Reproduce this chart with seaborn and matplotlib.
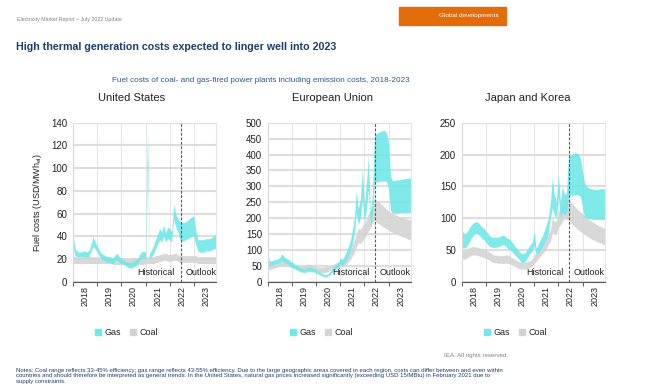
import numpy as np
import pandas as pd
import matplotlib.pyplot as plt
import seaborn as sns
from matplotlib.lines import Line2D
from matplotlib.patches import Rectangle
from matplotlib.ticker import FixedLocator, MultipleLocator

# monthly values, Jan 2018 - Dec 2023 (USD/MWh_el)
months = 2018 + np.arange(72) / 12
year_labels = ["2018", "2019", "2020", "2021", "2022", "2023"]
regions = ["United States", "European Union", "Japan and Korea"]

us_gas_high = [42, 29, 27, 26, 26, 27, 27, 26, 28, 33, 40, 35,
               31, 28, 25, 24, 23, 22, 22, 21, 21, 24, 25, 22,
               20, 19, 18, 17, 17, 17, 18, 19, 20, 24, 26, 27,
               26, 132, 25, 28, 32, 37, 42, 47, 44, 50, 43, 48,
               47, 44, 68, 60, 56, 53, 52, 52, 53, 54, 56, 57,
               58, 45, 37, 37, 37, 37, 38, 38, 38, 39, 41, 41]
us_gas_low = [30, 23, 22, 22, 22, 22, 22, 22, 23, 27, 31, 29,
              26, 23, 20, 19, 18, 17, 17, 16, 16, 19, 19, 17,
              16, 15, 14, 13, 12, 12, 13, 14, 15, 19, 20, 21,
              20, 100, 20, 22, 25, 29, 33, 37, 35, 40, 35, 38,
              37, 35, 55, 48, 44, 37, 36, 36, 37, 38, 39, 40,
              40, 32, 27, 26, 26, 26, 27, 27, 27, 28, 29, 29]
us_coal_high = [23, 22, 22, 22, 22, 22, 23, 23, 23, 22, 22, 22,
                22, 22, 22, 22, 22, 22, 22, 22, 21, 21, 21, 21,
                21, 21, 21, 20, 20, 20, 21, 21, 21, 21, 21, 21,
                22, 22, 22, 22, 22, 23, 23, 24, 24, 25, 25, 24,
                24, 24, 25, 25, 24, 23, 23, 23, 23, 23, 23, 23,
                23, 23, 22, 22, 22, 22, 22, 22, 22, 22, 22, 22]
us_coal_low = [16, 16, 16, 16, 16, 16, 16, 16, 16, 16, 16, 16,
               16, 16, 16, 16, 16, 16, 16, 16, 15, 15, 15, 15,
               15, 15, 15, 14, 14, 14, 15, 15, 15, 15, 15, 15,
               16, 16, 16, 16, 16, 17, 17, 18, 18, 19, 19, 18,
               18, 18, 19, 19, 18, 17, 17, 17, 17, 17, 17, 17,
               17, 17, 16, 16, 16, 16, 16, 16, 16, 16, 16, 16]

eu_gas_high = [84, 66, 66, 68, 70, 72, 76, 88, 80, 74, 72, 66,
               62, 58, 52, 48, 45, 42, 40, 42, 46, 44, 44, 42,
               38, 34, 30, 26, 23, 22, 26, 32, 40, 48, 55, 60,
               75, 70, 80, 95, 110, 130, 160, 200, 285, 230, 260, 355,
               240, 310, 395, 210, 275, 460, 466, 470, 472, 475, 476, 468,
               440, 330, 318, 318, 320, 320, 322, 322, 324, 325, 326, 326]
eu_gas_low = [55, 50, 52, 54, 56, 58, 60, 66, 62, 58, 55, 50,
              46, 42, 38, 35, 32, 30, 29, 30, 33, 32, 31, 30,
              27, 24, 21, 18, 16, 15, 18, 23, 29, 35, 40, 44,
              55, 52, 58, 68, 80, 95, 115, 150, 215, 180, 200, 260,
              185, 230, 290, 175, 210, 312, 314, 315, 316, 316, 316, 314,
              290, 225, 215, 215, 215, 215, 216, 216, 217, 217, 218, 218]
eu_coal_high = [55, 52, 52, 54, 58, 60, 62, 65, 68, 66, 62, 60,
                58, 55, 52, 50, 50, 50, 52, 54, 55, 55, 52, 50,
                48, 46, 46, 46, 46, 48, 48, 50, 52, 56, 60, 62,
                65, 65, 70, 78, 88, 98, 112, 130, 150, 168, 165, 175,
                185, 195, 215, 225, 245, 262, 257, 251, 246, 240, 234, 228,
                223, 219, 215, 212, 209, 206, 203, 201, 199, 197, 195, 194]
eu_coal_low = [38, 38, 40, 42, 44, 46, 48, 50, 52, 50, 48, 46,
               44, 42, 40, 38, 37, 36, 38, 40, 40, 40, 38, 36,
               34, 32, 30, 28, 28, 30, 32, 36, 38, 40, 44, 46,
               48, 48, 52, 56, 62, 70, 80, 92, 108, 122, 120, 128,
               138, 145, 160, 170, 185, 192, 188, 183, 178, 174, 170, 166,
               162, 158, 155, 152, 149, 146, 143, 141, 139, 136, 133, 131]

jk_gas_high = [79, 77, 76, 80, 86, 90, 93, 94, 94, 90, 86, 84,
               80, 76, 72, 70, 70, 70, 70, 71, 73, 73, 70, 68,
               66, 62, 58, 54, 50, 46, 44, 45, 48, 53, 58, 62,
               79, 52, 60, 66, 72, 80, 90, 100, 123, 164, 137, 126,
               168, 126, 150, 137, 140, 196, 199, 201, 202, 203, 200, 194,
               173, 155, 150, 148, 146, 146, 145, 145, 145, 146, 146, 146]
jk_gas_low = [55, 53, 54, 58, 64, 70, 74, 76, 75, 72, 68, 66,
              62, 58, 55, 54, 54, 54, 55, 56, 58, 58, 55, 52,
              50, 47, 43, 40, 37, 33, 30, 31, 34, 40, 45, 48,
              58, 42, 45, 50, 55, 62, 68, 76, 100, 116, 105, 100,
              134, 100, 110, 105, 108, 134, 136, 137, 137, 137, 136, 134,
              116, 102, 100, 99, 99, 98, 98, 98, 98, 98, 98, 98]
jk_coal_high = [50, 49, 50, 52, 54, 55, 55, 55, 54, 53, 52, 51,
                50, 48, 46, 44, 42, 42, 41, 41, 41, 41, 42, 42,
                40, 38, 36, 34, 32, 31, 31, 31, 31, 32, 33, 36,
                42, 44, 48, 54, 58, 63, 70, 76, 81, 100, 95, 95,
                110, 116, 120, 123, 128, 131, 127, 123, 119, 115, 112, 110,
                107, 104, 101, 98, 96, 94, 92, 90, 88, 87, 85, 84]
jk_coal_low = [37, 35, 36, 38, 40, 42, 42, 42, 41, 40, 39, 38,
               37, 35, 33, 31, 30, 30, 29, 29, 29, 29, 29, 29,
               28, 26, 25, 23, 21, 20, 20, 20, 20, 21, 22, 24,
               29, 32, 36, 40, 44, 47, 52, 58, 63, 76, 74, 74,
               85, 89, 95, 100, 98, 97, 93, 90, 87, 84, 81, 79,
               76, 74, 72, 70, 68, 66, 65, 63, 62, 61, 59, 58]

panel_data = [
    (us_gas_low, us_gas_high, us_coal_low, us_coal_high, 140, 20),
    (eu_gas_low, eu_gas_high, eu_coal_low, eu_coal_high, 500, 50),
    (jk_gas_low, jk_gas_high, jk_coal_low, jk_coal_high, 250, 50),
]

GAS = "#6ee8e8"
COAL = "#d4d4d4"
NAVY = "#1f3d6b"
OUTLOOK_START = 2022.45


def band_frame(fuel, low, high):
    lo = pd.DataFrame({"year": months, "cost": low, "fuel": fuel})
    hi = pd.DataFrame({"year": months, "cost": high, "fuel": fuel})
    return pd.concat([lo, hi], ignore_index=True)


sns.set_theme(style="whitegrid")
plt.rcParams["font.family"] = ["Liberation Sans", "DejaVu Sans"]

fig, axes = plt.subplots(1, 3, figsize=(6.56, 3.92), dpi=100)
lefts = [73, 267.7, 461.7]
title_x = [0.41, 0.45, 0.46]

for i, ax in enumerate(axes):
    gas_lo, gas_hi, coal_lo, coal_hi, ymax, ystep = panel_data[i]
    ax.set_position([lefts[i] / 656, 110.3 / 392, 143 / 656, 159 / 392])

    # min-max band per month drawn by seaborn's percentile interval
    sns.lineplot(data=band_frame("Coal", coal_lo, coal_hi), x="year", y="cost",
                 color=COAL, errorbar=("pi", 100), lw=0,
                 err_kws={"alpha": 0.9, "linewidth": 0}, ax=ax)
    sns.lineplot(data=band_frame("Gas", gas_lo, gas_hi), x="year", y="cost",
                 color=GAS, errorbar=("pi", 100), lw=0,
                 err_kws={"alpha": 0.88, "linewidth": 0}, ax=ax)

    ax.set_xlim(2018, months[-1])
    ax.set_ylim(0, ymax)
    ax.yaxis.set_major_locator(MultipleLocator(ystep))
    ax.xaxis.set_major_locator(FixedLocator([int(y) + 0.5 for y in year_labels]))
    ax.set_xticklabels(year_labels)
    ax.xaxis.set_minor_locator(FixedLocator(range(2018, 2024)))

    ax.grid(axis="x", which="major", visible=False)
    ax.grid(axis="x", which="minor", color="#e6e6e6", lw=0.8)
    ax.grid(axis="y", which="major", color="#dedede", lw=1.5)
    ax.set_axisbelow(True)

    ax.tick_params(axis="y", length=0, labelsize=7, pad=4, labelcolor="#222222")
    ax.tick_params(axis="x", which="major", length=0, labelsize=6.5, pad=3,
                   rotation=90, labelcolor="#222222")
    ax.tick_params(axis="x", which="minor", bottom=True, length=3,
                   width=0.7, color="#595959")

    ax.spines["top"].set_visible(False)
    ax.spines["right"].set_color("#e6e6e6")
    ax.spines["right"].set_linewidth(0.8)
    ax.spines["left"].set_color("#d9d9d9")
    ax.spines["left"].set_linewidth(0.8)
    ax.spines["bottom"].set_color("#595959")
    ax.spines["bottom"].set_linewidth(0.8)

    ax.axvline(OUTLOOK_START, color="#595959", ls=(0, (2.5, 1.5)), lw=0.8)
    ax.annotate("Historical", (OUTLOOK_START, 0.055), xycoords=("data", "axes fraction"),
                xytext=(-4, 0), textcoords="offset points", ha="right", va="center",
                fontsize=6.5, color="#222222")
    ax.annotate("Outlook", (OUTLOOK_START, 0.055), xycoords=("data", "axes fraction"),
                xytext=(3.5, 0), textcoords="offset points", ha="left", va="center",
                fontsize=6.5, color="#222222")

    ax.set_xlabel("")
    ax.set_ylabel("")
    ax.text(title_x[i], 1.157, regions[i], transform=ax.transAxes, ha="center",
            va="center", fontsize=8, color="#222222")

    handles = [Line2D([], [], marker="s", ls="none", markersize=5, color=GAS),
               Line2D([], [], marker="s", ls="none", markersize=5, color=COAL)]
    ax.legend(handles, ["Gas", "Coal"], loc="center", bbox_to_anchor=(0.37, -0.32),
              ncol=2, frameon=False, fontsize=6.5, handletextpad=0.2,
              columnspacing=0.9, handlelength=1.0)

axes[0].set_ylabel("Fuel costs (USD/MWh$_{\\mathregular{el}}$)", fontsize=6.5,
                   color="#222222", labelpad=5)

# header and notes
fig.text(17 / 656, 1 - 19 / 392, "Electricity Market Report \u2013 July 2022 Update",
         fontsize=3.8, color="#808080", va="center")
fig.patches.append(Rectangle((399 / 656, 1 - 25 / 392), 107 / 656, 18 / 392,
                             transform=fig.transFigure, color="#e36c0a", zorder=0))
fig.text(469 / 656, 1 - 16 / 392, "Global developments", fontsize=4.6,
         color="white", ha="center", va="center")
fig.text(16 / 656, 1 - 47 / 392, "High thermal generation costs expected to linger well into 2023",
         fontsize=7.7, fontweight="bold", color=NAVY, va="center")
fig.text(261 / 656, 1 - 80 / 392,
         "Fuel costs of coal- and gas-fired power plants including emission costs, 2018-2023",
         fontsize=5.9, color="#34578a", ha="center", va="center")
fig.text(508 / 656, 1 - 355 / 392, "IEA. All rights reserved.", fontsize=4.4,
         color="#808080", ha="right", va="center")
fig.text(16 / 656, 1 - 376 / 392,
         "Notes: Coal range reflects 33-45% efficiency; gas range reflects 43-55% efficiency. "
         "Due to the large geographic areas covered in each region, costs can differ between and even within\n"
         "countries and should therefore be interpreted as general trends. In the United States, natural gas "
         "prices increased significantly (exceeding USD 15/MBtu) in February 2021 due to\n"
         "supply constraints.",
         fontsize=4.3, color=NAVY, va="center", linespacing=1.2)

fig.savefig("out.png", dpi=100)
